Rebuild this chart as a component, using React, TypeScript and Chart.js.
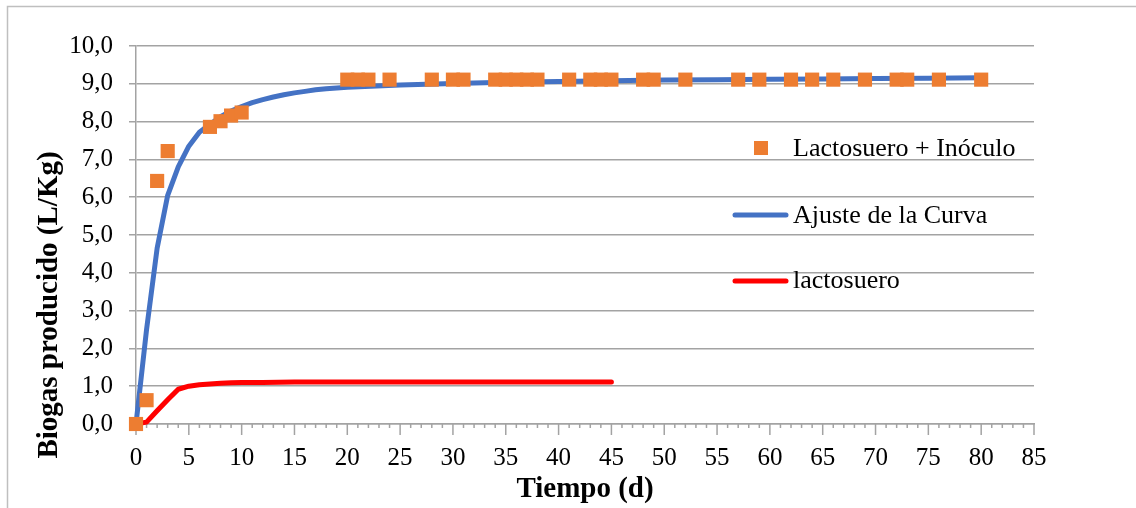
import { useEffect, useRef } from "react";
import { Chart, registerables } from "chart.js";

Chart.register(...registerables);

// Measured biogas yield, whey + inoculum (day, L/Kg)
const obsDays = [0, 1, 2, 3, 7, 8, 9, 10, 20, 21, 22, 24, 28, 30, 31, 34, 35, 36, 37, 38, 41, 43, 44, 45, 48, 49, 52, 57, 59, 62, 64, 66, 69, 72, 73, 76, 80];
const obsValues = [0, 0.63, 6.43, 7.22, 7.86, 8.01, 8.16, 8.24, 9.11, 9.11, 9.11, 9.11, 9.11, 9.11, 9.11, 9.11, 9.11, 9.11, 9.11, 9.11, 9.11, 9.11, 9.11, 9.11, 9.11, 9.11, 9.11, 9.11, 9.11, 9.11, 9.11, 9.11, 9.11, 9.11, 9.11, 9.11, 9.11];

// Fitted curve
const fitDays = [0, 1, 2, 3, 4, 5, 6, 7, 8, 9, 10, 11, 12, 13, 14, 15, 16, 17, 18, 19, 20, 25, 30, 35, 40, 45, 50, 55, 60, 65, 70, 75, 80];
const fitValues = [0, 2.5, 4.65, 6.05, 6.8, 7.35, 7.72, 7.93, 8.13, 8.28, 8.4, 8.5, 8.58, 8.65, 8.71, 8.76, 8.8, 8.84, 8.87, 8.89, 8.91, 8.97, 9.01, 9.04, 9.06, 9.08, 9.1, 9.11, 9.12, 9.13, 9.14, 9.15, 9.16];

// Whey alone
const lactoDays = [0, 1, 2, 3, 4, 5, 6, 7, 8, 9, 10, 12, 15, 20, 25, 30, 35, 40, 45];
const lactoValues = [0, 0.05, 0.35, 0.64, 0.92, 1.0, 1.04, 1.06, 1.08, 1.09, 1.1, 1.1, 1.11, 1.11, 1.11, 1.11, 1.11, 1.11, 1.11];

const seriesNames = ["Lactosuero + Inóculo", "Ajuste de la Curva", "lactosuero"];
const xTitle = "Tiempo (d)";
const yTitle = "Biogas producido (L/Kg)";

const ORANGE = "#ED7D31";
const BLUE = "#4472C4";
const RED = "#FF0000";
const GRID = "#A3A3A3";
const FRAME = "#BFBFBF";
const SERIF = "'Liberation Serif', 'Times New Roman', serif";

const toPoints = (xs: number[], ys: number[]) => xs.map((x, i) => ({ x, y: ys[i] }));

const decorations = {
  id: "decorations",
  beforeDatasetsDraw(chart: any) {
    const { ctx } = chart;
    const x = chart.scales.x;
    const y = chart.scales.y;
    const y0 = y.getPixelForValue(0);
    ctx.save();
    ctx.strokeStyle = GRID;
    ctx.lineWidth = 1.5;
    for (let d = 0; d <= 85; d++) {
      const px = x.getPixelForValue(d);
      const len = d % 5 === 0 ? 11 : 4;
      ctx.beginPath();
      ctx.moveTo(px, y0);
      ctx.lineTo(px, y0 + len);
      ctx.stroke();
    }
    ctx.restore();
  },
  afterDraw(chart: any) {
    const { ctx, chartArea } = chart;
    ctx.save();

    // outer frame (left and top edges)
    ctx.strokeStyle = FRAME;
    ctx.lineWidth = 1.5;
    ctx.beginPath();
    ctx.moveTo(7.5, chart.height);
    ctx.lineTo(7.5, 6.5);
    ctx.lineTo(chart.width, 6.5);
    ctx.stroke();

    // axis titles
    ctx.fillStyle = "#000";
    ctx.font = `bold 29px ${SERIF}`;
    ctx.textAlign = "center";
    ctx.textBaseline = "alphabetic";
    ctx.fillText(xTitle, (chartArea.left + chartArea.right) / 2, 497);
    ctx.save();
    ctx.translate(57, 305);
    ctx.rotate(-Math.PI / 2);
    ctx.fillText(yTitle, 0, 0);
    ctx.restore();

    // legend
    const ds = chart.data.datasets;
    ctx.font = `26px ${SERIF}`;
    ctx.textAlign = "left";
    const textX = 793;
    // marker entry
    ctx.fillStyle = ds[0].backgroundColor;
    ctx.fillRect(754, 141, 14, 14);
    ctx.fillStyle = "#000";
    ctx.fillText(ds[0].label, textX, 156);
    // line entries
    const lineRows = [
      { d: ds[1], y: 215, base: 223 },
      { d: ds[2], y: 281, base: 288 },
    ];
    ctx.lineCap = "round";
    for (const r of lineRows) {
      ctx.strokeStyle = r.d.borderColor;
      ctx.lineWidth = 5;
      ctx.beginPath();
      ctx.moveTo(735, r.y);
      ctx.lineTo(786, r.y);
      ctx.stroke();
      ctx.fillStyle = "#000";
      ctx.fillText(r.d.label, textX, r.base);
    }
    ctx.restore();
  },
};

export default function App() {
  const ref = useRef<HTMLCanvasElement>(null);

  useEffect(() => {
    if (!ref.current) return;
    const tickFont = { family: SERIF, size: 25 };
    const chart = new Chart(ref.current, {
      type: "scatter",
      data: {
        datasets: [
          {
            label: seriesNames[0],
            data: toPoints(obsDays, obsValues),
            pointStyle: "rect",
            pointRadius: 10,
            backgroundColor: ORANGE,
            borderColor: ORANGE,
            borderWidth: 0,
            showLine: false,
            clip: false,
          },
          {
            label: seriesNames[1],
            data: toPoints(fitDays, fitValues),
            showLine: true,
            borderColor: BLUE,
            backgroundColor: BLUE,
            borderWidth: 5,
            pointRadius: 0,
            tension: 0,
            borderCapStyle: "round",
            borderJoinStyle: "round",
            clip: false,
          },
          {
            label: seriesNames[2],
            data: toPoints(lactoDays, lactoValues),
            showLine: true,
            borderColor: RED,
            backgroundColor: RED,
            borderWidth: 5,
            pointRadius: 0,
            tension: 0,
            borderCapStyle: "round",
            borderJoinStyle: "round",
            clip: false,
          },
        ],
      },
      options: {
        responsive: false,
        animation: false,
        devicePixelRatio: 1,
        layout: { padding: { top: 46, right: 102, left: 0, bottom: 0 } },
        plugins: { legend: { display: false }, tooltip: { enabled: false } },
        scales: {
          x: {
            type: "linear",
            min: 0,
            max: 85,
            afterFit: (s: any) => {
              s.height = 84;
            },
            ticks: { stepSize: 5, font: tickFont, color: "#000", padding: 19, maxRotation: 0, autoSkip: false },
            grid: { display: false, drawTicks: false },
            border: { display: true, color: GRID, width: 1.5 },
          },
          y: {
            min: 0,
            max: 10,
            afterFit: (s: any) => {
              s.width = 136;
            },
            ticks: {
              stepSize: 1,
              font: tickFont,
              color: "#000",
              padding: 16,
              callback: (v: any) => Number(v).toFixed(1).replace(".", ","),
            },
            grid: { color: GRID, lineWidth: 1.5, tickLength: 7, tickColor: GRID },
            border: { display: true, color: GRID, width: 1.5 },
          },
        },
      },
      plugins: [decorations],
    });
    return () => chart.destroy();
  }, []);

  return (
    <canvas
      ref={ref}
      width={1136}
      height={508}
      style={{ position: "absolute", left: 0, top: 0, width: 1136, height: 508 }}
    />
  );
}
